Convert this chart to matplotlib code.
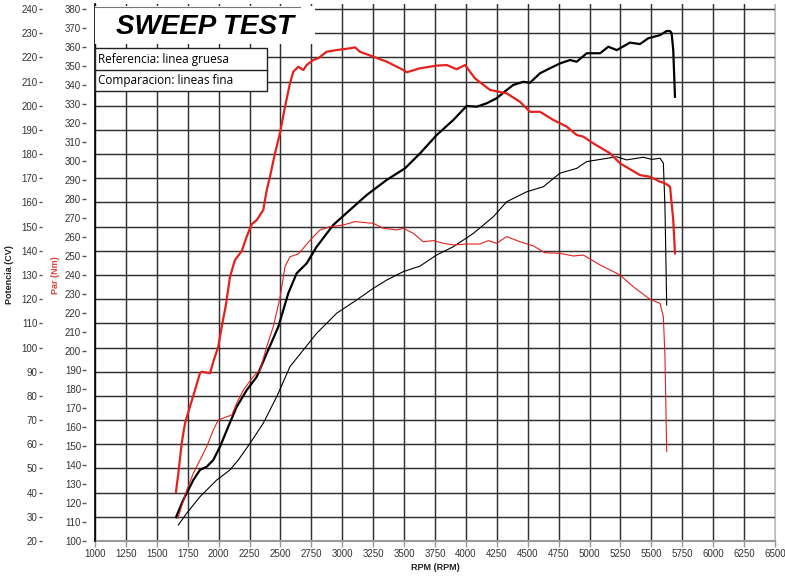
import matplotlib
matplotlib.use("Agg")
from matplotlib import pyplot as plt
from matplotlib.patches import Rectangle
from matplotlib.lines import Line2D

# reference run (thick lines)
ref_tq_rpm = [1655, 1674, 1701, 1728, 1768, 1809, 1849, 1863, 1930, 1957, 1997, 2025, 2058,
              2092, 2132, 2187, 2227, 2267, 2308, 2361, 2389, 2415, 2456, 2496, 2537, 2577,
              2604, 2644, 2685, 2712, 2766, 2806, 2874, 2955, 3062, 3103, 3143, 3251, 3359,
              3494, 3521, 3629, 3764, 3845, 3925, 3993, 4073, 4195, 4330, 4437, 4518, 4599,
              4707, 4815, 4896, 4950, 5030, 5165, 5246, 5408, 5489, 5570, 5610, 5651, 5664,
              5677, 5691]
ref_tq_nm = [125.9, 135.6, 151.4, 161.9, 170.7, 179.5, 188.3, 189.1, 188.3, 194.4, 202.3, 212.8, 224.0,
             239.1, 247.9, 252.6, 260.2, 266.7, 268.9, 274.2, 284.7, 291.7, 304.1, 314.6, 328.6, 340.9,
             347.0, 349.6, 347.9, 350.5, 353.2, 354.1, 357.5, 358.4, 359.3, 359.8, 357.5, 354.9, 352.3,
             347.9, 346.7, 348.8, 350.2, 350.5, 348.3, 350.5, 343.5, 337.4, 335.6, 331.2, 325.9, 325.9,
             321.6, 318.1, 313.7, 312.8, 309.3, 304.1, 298.8, 292.6, 291.7, 289.1, 288.3, 286.5, 277.7,
             268.9, 251.4]

ref_pw_rpm = [1655, 1714, 1795, 1849, 1903, 1957, 2011, 2078, 2146, 2227, 2308, 2389, 2483,
              2563, 2631, 2712, 2793, 2927, 3062, 3198, 3359, 3507, 3629, 3764, 3898, 4006,
              4087, 4168, 4249, 4330, 4383, 4464, 4518, 4599, 4680, 4761, 4842, 4896, 4977,
              5085, 5152, 5220, 5327, 5408, 5475, 5570, 5624, 5651, 5664, 5677, 5691]
ref_pw_cv = [29.8, 37.0, 45.2, 49.4, 50.7, 53.5, 59.0, 67.3, 75.5, 82.4, 87.9, 97.6, 108.6,
             122.4, 130.7, 134.8, 141.7, 150.7, 156.9, 163.1, 169.3, 174.1, 180.3, 187.9, 194.1, 199.9,
             199.6, 201.0, 203.1, 206.5, 208.6, 209.9, 209.5, 213.4, 215.5, 217.5, 218.9, 218.2, 221.7,
             221.7, 224.4, 223.0, 226.1, 225.5, 227.9, 229.2, 230.9, 230.9, 230.0, 223.0, 203.7]

# comparison run (thin lines)
cmp_tq_rpm = [1671, 1742, 1795, 1849, 1903, 1957, 1997, 2065, 2106, 2146, 2200, 2280, 2335,
              2389, 2442, 2496, 2537, 2577, 2644, 2685, 2753, 2820, 2901, 3008, 3103, 3198,
              3251, 3332, 3440, 3494, 3575, 3655, 3736, 3817, 3898, 4006, 4114, 4181, 4249,
              4330, 4437, 4545, 4640, 4761, 4869, 4950, 5085, 5246, 5354, 5489, 5570, 5597,
              5610, 5624]
cmp_tq_nm = [112.1, 126.8, 135.6, 142.6, 149.6, 158.4, 163.7, 165.4, 166.3, 172.5, 179.5, 186.5, 190.0,
             202.3, 212.8, 227.9, 244.4, 249.6, 251.1, 254.1, 259.3, 263.7, 265.4, 266.3, 268.1, 267.5,
             267.2, 264.6, 263.7, 264.6, 261.9, 257.5, 258.1, 256.7, 255.8, 256.3, 256.3, 258.1, 256.7,
             260.2, 257.5, 255.3, 251.7, 251.4, 250.0, 250.5, 245.3, 240.0, 233.8, 227.2, 225.1, 218.1,
             197.0, 147.0]

cmp_pw_rpm = [1674, 1742, 1849, 1984, 2092, 2159, 2254, 2361, 2470, 2577, 2685, 2793, 2955,
              3117, 3251, 3359, 3494, 3629, 3764, 3898, 4060, 4222, 4330, 4491, 4626, 4761,
              4896, 4977, 5111, 5220, 5300, 5435, 5503, 5570, 5597, 5610, 5624]
cmp_pw_cv = [26.6, 31.5, 38.3, 45.2, 49.4, 53.5, 60.4, 68.7, 79.7, 92.1, 99.0, 105.9, 114.2,
             119.7, 124.5, 127.9, 131.4, 133.7, 138.3, 141.7, 147.2, 154.1, 160.3, 164.4, 166.5, 172.1,
             174.1, 176.9, 178.0, 178.9, 177.6, 178.7, 177.8, 178.3, 176.3, 158.2, 117.6]

rpm_ticks = list(range(1000, 6501, 250))
cv_ticks = list(range(20, 241, 10))
nm_ticks = list(range(100, 381, 10))

W, H = 785, 576
RED = "#e4211c"
TICK_COL = "#333333"


def fx(x):
    return x / W


def fy(y):
    return 1 - y / H


fig = plt.figure(figsize=(W / 100, H / 100), dpi=100)
plt.rcParams["font.family"] = ["Liberation Sans", "DejaVu Sans"]

# axes: 1000 rpm at x=95, 6500 at x=775; 20 CV at y=541, top a bit above 240
cv_top = 242.0
top_px = 541 - (cv_top - 20) * 532 / 220
ax = fig.add_axes([fx(95), fy(541), fx(775) - fx(95), fy(top_px) - fy(541)])
ax.set_xlim(1000, 6500)
ax.set_ylim(20, cv_top)

ax2 = ax.twinx()
ax2.set_ylim(100, 100 + (cv_top - 20) * 280 / 220)

# grid
ax.set_xticks(rpm_ticks)
ax.set_yticks(cv_ticks)
ax.grid(True, color="#303030", linewidth=1.05)
ax.set_axisbelow(True)
ax.get_ygridlines()[-1].set_visible(False)

# lines
ax.plot(ref_pw_rpm, ref_pw_cv, color="black", lw=1.6, zorder=3)
ax.plot(cmp_pw_rpm, cmp_pw_cv, color="black", lw=0.8, zorder=3)
ax2.plot(ref_tq_rpm, ref_tq_nm, color=RED, lw=1.6, zorder=3)
ax2.plot(cmp_tq_rpm, cmp_tq_nm, color=RED, lw=0.8, zorder=3)

# spines
ax.spines["top"].set_visible(False)
ax.spines["left"].set_visible(False)
ax.spines["right"].set_color("#bbbbbb")
ax.spines["bottom"].set_color("#999999")
ax.spines["bottom"].set_linewidth(1.5)
for s in ax2.spines.values():
    s.set_visible(False)
ax.add_line(Line2D([0, 0], [0, 1], transform=ax.transAxes, color="black", lw=1.2, zorder=4,
                   clip_on=False))

# CV axis far left
ax.spines["left"].set_position(("outward", 38.5))
ax.tick_params(axis="y", direction="out", length=2.5, width=1, color="#555555", pad=0.5,
               labelsize=7, labelcolor=TICK_COL)
ax.tick_params(axis="x", direction="out", length=4, width=1, color="#999999", pad=2,
               labelsize=7, labelcolor=TICK_COL)

# Nm axis next to plot
ax2.yaxis.tick_left()
ax2.yaxis.set_label_position("left")
ax2.spines["left"].set_position(("outward", 6.5))
ax2.set_yticks(nm_ticks)
ax2.tick_params(axis="y", direction="out", length=3, width=1, color="#555555", pad=0.5,
                labelsize=7, labelcolor=TICK_COL)

# axis labels
fig.text(fx(10), fy(275), "Potencia (CV)", rotation=90, ha="center", va="center",
         fontsize=6.5, fontweight="bold", color="#222222")
fig.text(fx(55), fy(275), "Par (Nm)", rotation=90, ha="center", va="center",
         fontsize=6.5, fontweight="bold", color="#e0403c")
fig.text(fx(435), fy(568), "RPM (RPM)", ha="center", va="center",
         fontsize=6.5, fontweight="bold", color="#222222")

# title box
fig.patches.append(Rectangle((fx(95), fy(44)), fx(315) - fx(95), fy(6) - fy(44),
                             transform=fig.transFigure, facecolor="white", edgecolor="none",
                             zorder=5))
fig.lines.append(Line2D([fx(95), fx(300)], [fy(7), fy(7)], transform=fig.transFigure,
                        color="#777777", lw=0.8, zorder=6))
fig.text(fx(205), fy(27), "SWEEP TEST", ha="center", va="center", fontsize=20,
         fontweight="bold", fontstyle="italic", zorder=7)

# legend box
fig.patches.append(Rectangle((fx(95), fy(91)), fx(267) - fx(95), fy(48) - fy(91),
                             transform=fig.transFigure, facecolor="white", edgecolor="#222222",
                             lw=1, zorder=5))
fig.lines.append(Line2D([fx(95), fx(267)], [fy(69.7), fy(69.7)], transform=fig.transFigure,
                        color="#222222", lw=1, zorder=6))
fig.text(fx(98), fy(59.5), "Referencia: linea gruesa", ha="left", va="center", fontsize=8.5,
         family=["Open Sans", "DejaVu Sans"], zorder=7)
fig.text(fx(98), fy(80.5), "Comparacion: lineas fina", ha="left", va="center", fontsize=8.5,
         family=["Open Sans", "DejaVu Sans"], zorder=7)

fig.savefig("out.png", dpi=100)
